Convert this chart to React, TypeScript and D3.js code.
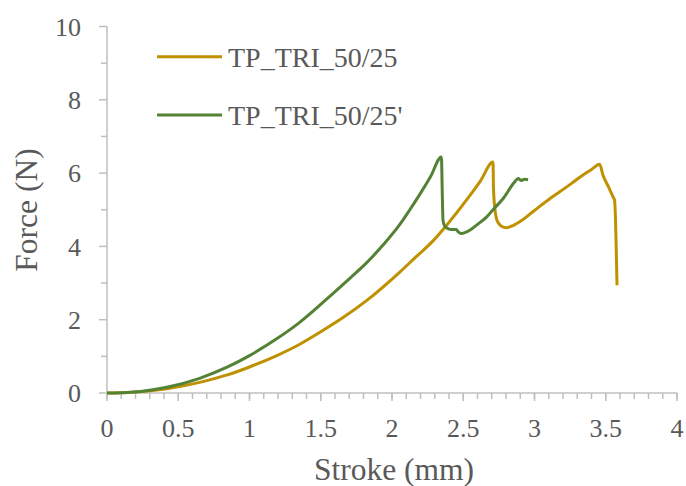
import React from "react";
import * as d3 from "d3";

const seriesNames = ["TP_TRI_50/25", "TP_TRI_50/25'"];
const seriesColors = ["#BF9000", "#548235"];

const strokeA = [0, 0.1, 0.25, 0.42, 0.65, 0.85, 1.0, 1.18, 1.353, 1.5, 1.646, 1.821, 2.055, 2.17, 2.288, 2.382, 2.522, 2.62, 2.709, 2.712, 2.72, 2.733, 2.75, 2.768, 2.803, 2.85, 2.896, 3.0, 3.107, 3.177, 3.26, 3.34, 3.4, 3.457, 3.48, 3.52, 3.551, 3.562, 3.579];
const forceA = [0, 0.008, 0.039, 0.115, 0.29, 0.5, 0.71, 1.0, 1.33, 1.67, 2.03, 2.52, 3.3, 3.72, 4.15, 4.57, 5.26, 5.78, 6.3, 5.6, 5.1, 4.76, 4.62, 4.55, 4.51, 4.57, 4.67, 4.98, 5.3, 5.49, 5.72, 5.95, 6.1, 6.24, 5.95, 5.62, 5.35, 5.26, 2.94];

const strokeB = [0, 0.1, 0.25, 0.42, 0.65, 0.85, 1.0, 1.18, 1.35, 1.587, 1.704, 1.821, 1.94, 2.055, 2.125, 2.195, 2.27, 2.347, 2.352, 2.358, 2.37, 2.382, 2.417, 2.452, 2.464, 2.487, 2.546, 2.6, 2.663, 2.72, 2.779, 2.861, 2.885, 2.908, 2.93, 2.955];
const forceB = [0, 0.01, 0.05, 0.155, 0.4, 0.717, 1.02, 1.45, 1.92, 2.72, 3.13, 3.55, 4.05, 4.6, 5.0, 5.42, 5.9, 6.44, 5.6, 4.71, 4.55, 4.51, 4.46, 4.46, 4.4, 4.35, 4.44, 4.6, 4.8, 5.05, 5.3, 5.76, 5.85, 5.8, 5.83, 5.82];

const xMajor = [0, 0.5, 1, 1.5, 2, 2.5, 3, 3.5, 4];
const xMinor = d3.range(0, 41).map((i) => i / 10);
const yMajor = [0, 2, 4, 6, 8, 10];
const yMinor = [1, 3, 5, 7, 9];

const W = 686;
const H = 486;
const FONT = "'Liberation Serif', 'Times New Roman', serif";
const AXIS = "#BFBFBF";
const TXT = "#595959";

export default function App() {
  const x = d3.scaleLinear().domain([0, 4]).range([107, 677]);
  const y = d3.scaleLinear().domain([0, 10]).range([393, 26.5]);
  const line = d3
    .line<[number, number]>()
    .x((d) => x(d[0]))
    .y((d) => y(d[1]))
    .curve(d3.curveMonotoneX);
  const dataA: [number, number][] = strokeA.map((s, i) => [s, forceA[i]]);
  const dataB: [number, number][] = strokeB.map((s, i) => [s, forceB[i]]);

  return (
    <svg
      width={W}
      height={H}
      style={{ position: "absolute", left: 0, top: 0, background: "#fff" }}
      fontFamily={FONT}
    >
      <rect width={W} height={H} fill="#fff" />
      {/* axes */}
      <line x1={x(0)} x2={x(0)} y1={y(0)} y2={y(10)} stroke={AXIS} strokeWidth={1.5} />
      <line x1={x(0)} x2={x(4)} y1={y(0)} y2={y(0)} stroke={AXIS} strokeWidth={1.5} />
      {yMajor.map((v) => (
        <line key={"ym" + v} x1={x(0) - 8} x2={x(0)} y1={y(v)} y2={y(v)} stroke={AXIS} strokeWidth={1.5} />
      ))}
      {yMinor.map((v) => (
        <line key={"yn" + v} x1={x(0) - 6} x2={x(0)} y1={y(v)} y2={y(v)} stroke={AXIS} strokeWidth={1.5} />
      ))}
      {xMinor.map((v) => (
        <line key={"xn" + v} x1={x(v)} x2={x(v)} y1={y(0)} y2={y(0) + 6} stroke={AXIS} strokeWidth={1.5} />
      ))}
      {xMajor.map((v) => (
        <line key={"xm" + v} x1={x(v)} x2={x(v)} y1={y(0)} y2={y(0) + 8} stroke={AXIS} strokeWidth={1.5} />
      ))}
      {/* tick labels */}
      {yMajor.map((v) => (
        <text key={"yl" + v} x={81} y={y(v)} dy="0.35em" textAnchor="end" fontSize={26} fill={TXT}>
          {v}
        </text>
      ))}
      {xMajor.map((v) => (
        <text key={"xl" + v} x={x(v)} y={437} textAnchor="middle" fontSize={26} fill={TXT}>
          {v}
        </text>
      ))}
      {/* axis titles */}
      <text x={394} y={480} textAnchor="middle" fontSize={31.5} fill={TXT}>
        Stroke (mm)
      </text>
      <text
        transform={`translate(37,210) rotate(-90)`}
        textAnchor="middle"
        fontSize={31.5}
        fill={TXT}
      >
        Force (N)
      </text>
      {/* series */}
      <path d={line(dataA) || ""} fill="none" stroke={seriesColors[0]} strokeWidth={3} strokeLinejoin="round" />
      <path d={line(dataB) || ""} fill="none" stroke={seriesColors[1]} strokeWidth={3} strokeLinejoin="round" />
      {/* legend */}
      {seriesNames.map((n, i) => (
        <g key={n} transform={`translate(0,${56.7 + i * 58.3})`}>
          <line x1={157} x2={222} y1={0} y2={0} stroke={seriesColors[i]} strokeWidth={3} />
          <text x={228} y={0} dy="0.35em" fontSize={28} fill={TXT}>
            {n}
          </text>
        </g>
      ))}
    </svg>
  );
}
